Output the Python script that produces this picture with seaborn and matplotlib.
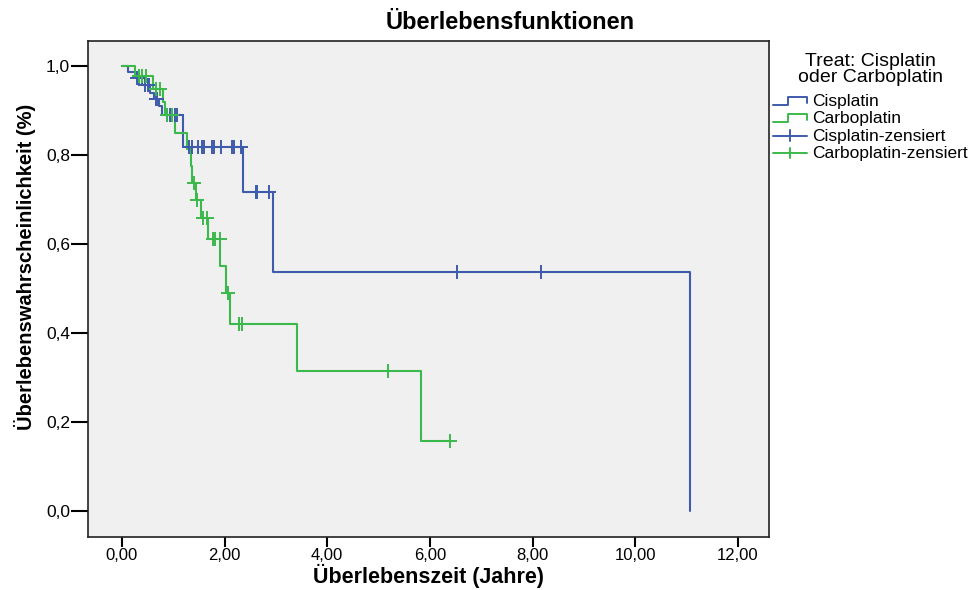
import numpy as np
import pandas as pd
import matplotlib
matplotlib.use("Agg")
import matplotlib.pyplot as plt
import seaborn as sns
from matplotlib.lines import Line2D
from matplotlib.legend_handler import HandlerBase

# ---------------- data ----------------
cis_event_times = [0.12, 0.27, 0.40, 0.55, 0.62, 0.72, 0.78, 1.19, 2.36, 2.95, 11.07]
cis_event_surv  = [0.986, 0.972, 0.957, 0.940, 0.925, 0.910, 0.890, 0.819, 0.716, 0.537, 0.0]
cis_end_time = 11.07
cis_censored = [0.30, 0.33, 0.45, 0.50, 0.52, 0.66, 0.68, 0.87, 0.93, 1.03, 1.07,
                1.31, 1.36, 1.49, 1.57, 1.60, 1.75, 1.79, 1.94, 2.14, 2.18, 2.32,
                2.62, 2.64, 2.87, 6.53, 8.16]

carbo_event_times = [0.25, 0.61, 0.80, 0.84, 1.03, 1.26, 1.34, 1.37, 1.44, 1.55,
                     1.68, 1.92, 2.02, 2.10, 3.42, 5.82]
carbo_event_surv  = [0.978, 0.948, 0.918, 0.890, 0.849, 0.813, 0.775, 0.738, 0.699, 0.658,
                     0.611, 0.551, 0.489, 0.420, 0.314, 0.158]
carbo_end_time = 6.43
carbo_censored = [0.33, 0.40, 0.46, 0.66, 0.75, 0.88, 0.97, 1.41, 1.47, 1.58, 1.66,
                  1.78, 1.81, 1.91, 2.06, 2.29, 2.34, 5.18, 6.39]

groups = ["Cisplatin", "Carboplatin"]
x_ticks = [0, 2, 4, 6, 8, 10, 12]
y_ticks = [0.0, 0.2, 0.4, 0.6, 0.8, 1.0]

BLUE = "#3f5bab"
GREEN = "#3cb94c"
BG = "#f0f0f0"

# ---------------- build curves ----------------
def curve(times, surv, end):
    t = [0.0] + list(times)
    s = [1.0] + list(surv)
    if end > t[-1]:
        t.append(end)
        s.append(s[-1])
    return t, s

def surv_at(times, surv, x):
    idx = np.searchsorted(np.array(times), x, side="right")
    return 1.0 if idx == 0 else surv[idx - 1]

ct, cs = curve(cis_event_times, cis_event_surv, cis_end_time)
gt, gs = curve(carbo_event_times, carbo_event_surv, carbo_end_time)
curves = pd.concat([
    pd.DataFrame({"t": ct, "s": cs, "g": groups[0]}),
    pd.DataFrame({"t": gt, "s": gs, "g": groups[1]}),
])
cens = pd.concat([
    pd.DataFrame({"t": cis_censored,
                  "s": [surv_at(cis_event_times, cis_event_surv, x) for x in cis_censored],
                  "g": groups[0]}),
    pd.DataFrame({"t": carbo_censored,
                  "s": [surv_at(carbo_event_times, carbo_event_surv, x) for x in carbo_censored],
                  "g": groups[1]}),
])

# ---------------- plot ----------------
sns.set_theme(style="ticks")
plt.rcParams["font.family"] = ["Liberation Sans", "DejaVu Sans"]
plt.rcParams["text.color"] = "black"
plt.rcParams["axes.labelcolor"] = "black"
plt.rcParams["xtick.color"] = "black"
plt.rcParams["ytick.color"] = "black"

fig = plt.figure(figsize=(9.78, 5.90), dpi=100)
ax = fig.add_axes([0.090, 0.0898, 0.696, 0.8407])
ax.set_facecolor(BG)

pal = {groups[0]: BLUE, groups[1]: GREEN}
for g in groups:
    d = curves[curves.g == g]
    sns.lineplot(data=d, x="t", y="s", ax=ax, color=pal[g], drawstyle="steps-post",
                 estimator=None, sort=False, linewidth=1.5, legend=False)
    c = cens[cens.g == g]
    sns.scatterplot(data=c, x="t", y="s", ax=ax, color=pal[g], marker="+", s=90,
                    linewidth=1.4, legend=False, zorder=3)

ax.set_xlim(-0.66, 12.60)
ax.set_ylim(-0.058, 1.056)
ax.set_xticks(x_ticks)
ax.set_xticklabels([f"{v:.2f}".replace(".", ",") for v in x_ticks], fontsize=12)
ax.set_yticks(y_ticks)
ax.set_yticklabels([f"{v:.1f}".replace(".", ",") for v in y_ticks], fontsize=12.5)
ax.tick_params(axis="x", direction="out", length=7, width=1.5, colors="black", pad=1)
ax.tick_params(axis="y", direction="out", length=12, width=1.5, colors="black", pad=1)
for sp in ax.spines.values():
    sp.set_visible(True)
    sp.set_color("#222222")
    sp.set_linewidth(1.2)

ax.set_xlabel("Überlebenszeit (Jahre)", fontsize=15.5, fontweight="bold", va="center")
ax.xaxis.set_label_coords(0.5, -0.079)
ax.set_ylabel("Überlebenswahrscheinlichkeit (%)", fontsize=14.5, fontweight="bold")
ax.yaxis.set_label_coords(-0.076, 0.545)
fig.text(0.5215, 0.962, "Überlebensfunktionen", ha="center", va="center",
         fontsize=17, fontweight="bold")

# legend with step-shaped icons
class StepHandler(HandlerBase):
    def create_artists(self, legend, orig_handle, xd, yd, width, height, fontsize, trans):
        x = [xd, xd + width * 0.45, xd + width * 0.45, xd + width, xd + width]
        y = [yd + 0.1 * height, yd + 0.1 * height, yd + 0.75 * height, yd + 0.75 * height, yd + 0.3 * height]
        ln = Line2D(x, y, color=orig_handle.get_color(), linewidth=1.4, transform=trans)
        return [ln]

class CrossHandler(HandlerBase):
    def create_artists(self, legend, orig_handle, xd, yd, width, height, fontsize, trans):
        ym = yd + height * 0.4
        h = Line2D([xd, xd + width], [ym, ym], color=orig_handle.get_color(), linewidth=1.4, transform=trans)
        v = Line2D([xd + width / 2, xd + width / 2], [ym - height * 0.45, ym + height * 0.45],
                   color=orig_handle.get_color(), linewidth=1.4, transform=trans)
        return [h, v]

class StepLine(Line2D):
    pass

class CrossLine(Line2D):
    pass

handles = [StepLine([], [], color=BLUE), StepLine([], [], color=GREEN),
           CrossLine([], [], color=BLUE), CrossLine([], [], color=GREEN)]
labels = ["Cisplatin", "Carboplatin", "Cisplatin-zensiert", "Carboplatin-zensiert"]
fig.text(0.890, 1 - 61 / 590, "Treat: Cisplatin", ha="center", va="center", fontsize=14)
fig.text(0.890, 1 - 77 / 590, "oder Carboplatin", ha="center", va="center", fontsize=14)
leg = fig.legend(handles, labels, loc="upper left", bbox_to_anchor=(0.790, 1 - 94 / 590),
                 frameon=False, fontsize=12.5, handlelength=2.0, handletextpad=0.25,
                 labelspacing=0.12, borderaxespad=0, borderpad=0.0,
                 handler_map={StepLine: StepHandler(), CrossLine: CrossHandler()})

fig.savefig("out.png", dpi=100, facecolor="white")
